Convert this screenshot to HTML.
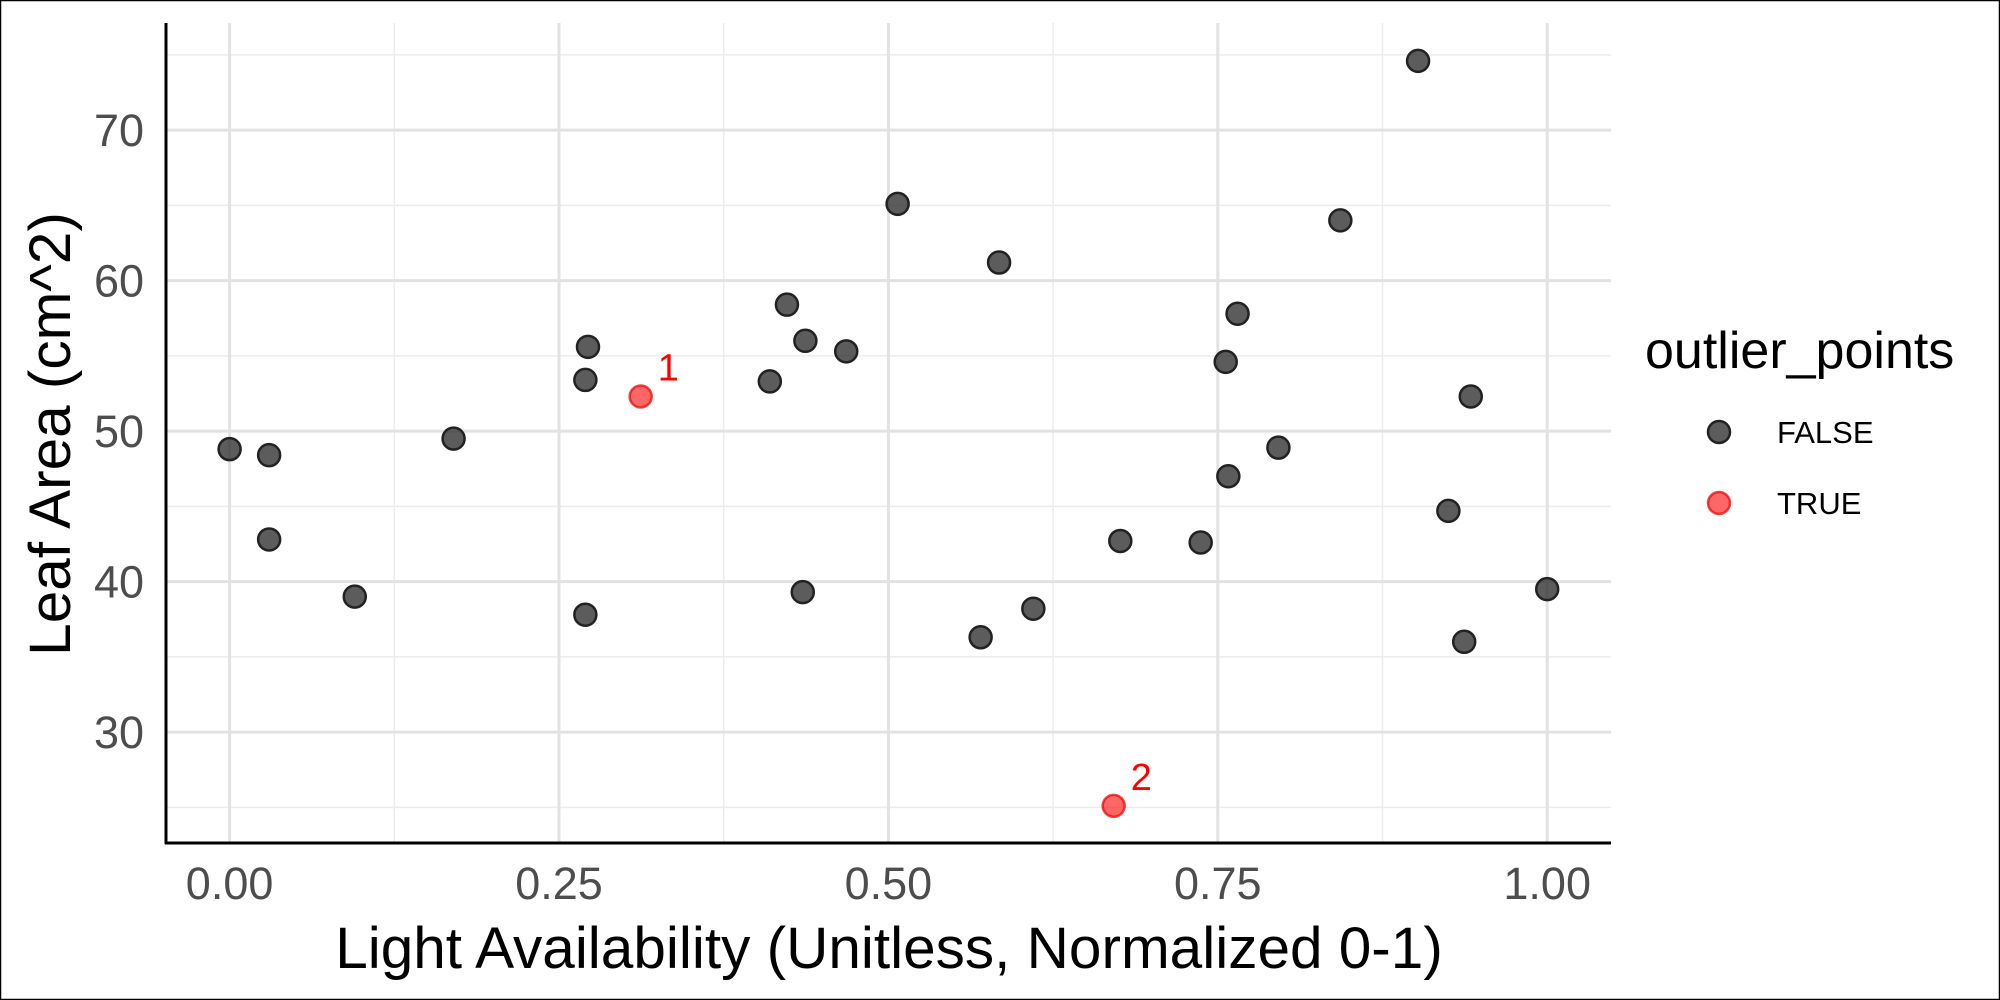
<!DOCTYPE html>
<html><head><meta charset="utf-8"><style>
html,body{margin:0;padding:0;background:#fff}
svg{display:block;font-family:"Liberation Sans",Arial,sans-serif}
</style></head><body>
<svg id="chart" width="2000" height="1000" viewBox="0 0 2000 1000">
<rect x="0.5" y="0.5" width="1999" height="999" fill="#fff" stroke="#000" stroke-width="1.5"/>
<g id="grid"></g>
<g id="axes"></g>
<g id="points"></g>
<text x="889" y="968" font-size="58.5" text-anchor="middle" fill="#000">Light Availability (Unitless, Normalized 0-1)</text>
<text transform="translate(70,434) rotate(-90)" font-size="58.5" text-anchor="middle" fill="#000">Leaf Area (cm^2)</text>
<g>
<text x="1645" y="368" font-size="52" fill="#000">outlier_points</text>
<g>
<circle cx="1719" cy="432" r="11" fill="rgba(51,51,51,0.8)" stroke="#222" stroke-width="2.5"/>
<text x="1777" y="443" font-size="31" fill="#000">FALSE</text></g>
<g>
<circle cx="1719" cy="503" r="11" fill="rgba(255,0,0,0.6)" stroke="rgba(230,0,0,0.7)" stroke-width="2.5"/>
<text x="1777" y="514" font-size="31" fill="#000">TRUE</text></g>
</g>
</svg>
<script>
const xVals=[0.0,0.03,0.03,0.095,0.17,0.27,0.272,0.27,0.41,0.423,0.437,0.435,0.468,0.507,0.57,0.584,0.61,0.676,0.737,0.756,0.758,0.765,0.796,0.843,0.902,0.925,0.937,0.942,1.0];
const yVals=[48.8,48.4,42.8,39.0,49.5,53.4,55.6,37.8,53.3,58.4,56.0,39.3,55.3,65.1,36.3,61.2,38.2,42.7,42.6,54.6,47.0,57.8,48.9,64.0,74.6,44.7,36.0,52.3,39.5];
const outX=[0.312,0.671];
const outY=[52.3,25.1];
const outLabels=["1","2"];
const xTicks=[0,0.25,0.5,0.75,1.0];
const xTickLabels=["0.00","0.25","0.50","0.75","1.00"];
const yTicks=[30,40,50,60,70];
const yTickLabels=["30","40","50","60","70"];
const P={l:166,r:1611,t:23,b:843};
const sx=v=>229.6+v*(1547.2-229.6);
const sy=v=>732.1-(v-30)*15.05;
const NS="http://www.w3.org/2000/svg";
function mk(t,a,p){const e=document.createElementNS(NS,t);for(const k in a)e.setAttribute(k,a[k]);p.appendChild(e);return e;}
const grid=document.getElementById('grid'),axes=document.getElementById('axes'),pts=document.getElementById('points');
for(let i=0;i<xTicks.length-1;i++){const v=(xTicks[i]+xTicks[i+1])/2;const l=mk('line',{x1:sx(v),x2:sx(v),y1:P.t,y2:P.b,stroke:'#ececec','stroke-width':1.5},grid);
}
for(let v=25;v<=75;v+=10){const l=mk('line',{x1:P.l,x2:P.r,y1:sy(v),y2:sy(v),stroke:'#ececec','stroke-width':1.5},grid);
}
xTicks.forEach((v,i)=>{const l=mk('line',{x1:sx(v),x2:sx(v),y1:P.t,y2:P.b,stroke:'#e2e2e2','stroke-width':3},grid);

const t=mk('text',{x:sx(v),y:899,'font-size':45,'text-anchor':'middle',fill:'#4d4d4d'},axes);t.textContent=xTickLabels[i];
});
yTicks.forEach((v,i)=>{const l=mk('line',{x1:P.l,x2:P.r,y1:sy(v),y2:sy(v),stroke:'#e2e2e2','stroke-width':3},grid);

const t=mk('text',{x:144,y:sy(v)+16,'font-size':45,'text-anchor':'end',fill:'#4d4d4d'},axes);t.textContent=yTickLabels[i];
});
const ax=mk('line',{x1:P.l,x2:P.l,y1:P.t,y2:P.b+1,stroke:'#000','stroke-width':3},axes);

const bx=mk('line',{x1:P.l-1,x2:P.r,y1:P.b,y2:P.b,stroke:'#000','stroke-width':3},axes);

xVals.forEach((v,i)=>{const c=mk('circle',{cx:sx(v),cy:sy(yVals[i]),r:11,fill:'rgba(51,51,51,0.8)',stroke:'#222','stroke-width':2.5},pts);
});
outX.forEach((v,i)=>{const c=mk('circle',{cx:sx(v),cy:sy(outY[i]),r:11,fill:'rgba(255,0,0,0.6)',stroke:'rgba(230,0,0,0.7)','stroke-width':2.5},pts);

const t=mk('text',{x:sx(v)+17,y:sy(outY[i])-16,'font-size':38,fill:'#ff0000'},pts);t.textContent=outLabels[i];
});
</script>
</body></html>
